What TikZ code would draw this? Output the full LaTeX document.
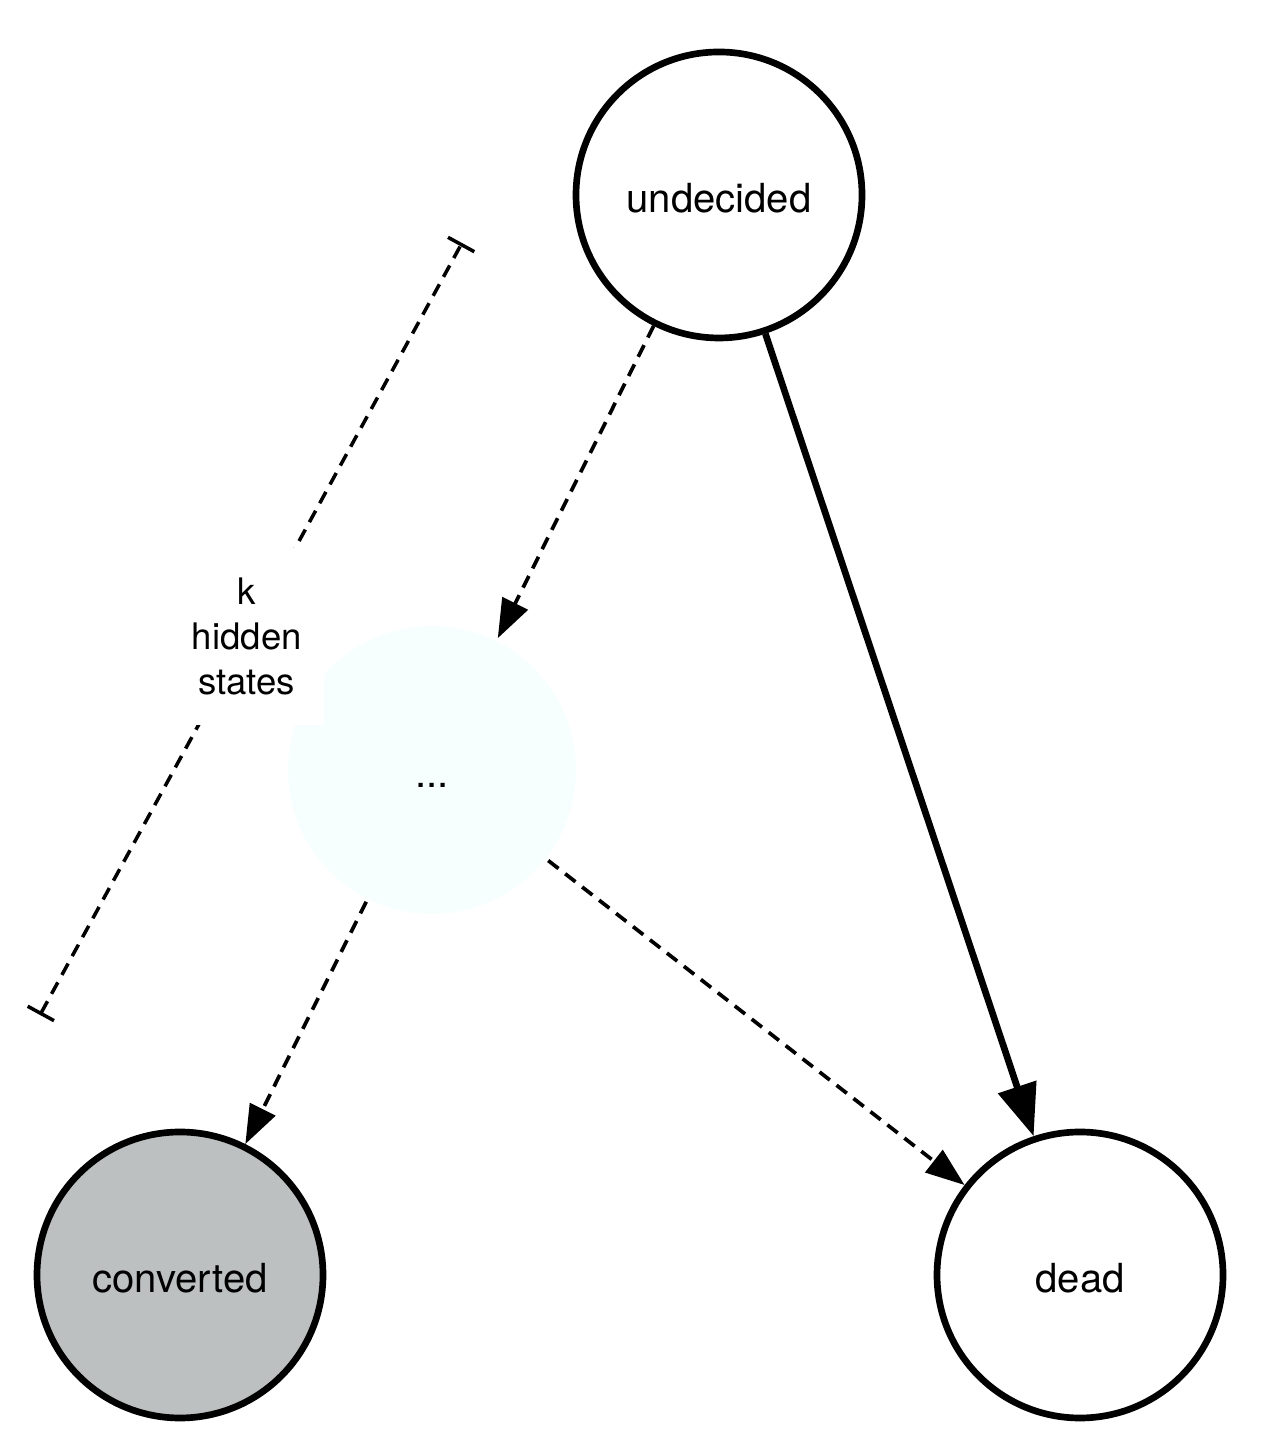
\documentclass[tikz,border=0pt]{standalone}
\usepackage{fontspec}
\setmainfont{TeX Gyre Heros}
\usetikzlibrary{arrows.meta,positioning}
\definecolor{ConvertedColor}{RGB}{189,192,192}
\definecolor{HiddenColor}{RGB}{247,254,254}
\tikzset{
    state/.style={circle, draw, line width=1.9pt, minimum size=2.86cm, inner sep=0pt, text height=10.5pt, text depth=0.5pt, font=\fontsize{11.4}{13.7}\selectfont},
    converted/.style={state, fill=ConvertedColor},
    hidden/.style={state, draw=none, fill=HiddenColor, minimum size=2.88cm},
    transition/.style={-{Triangle[length=0.52cm, width=0.39cm]}, line width=1.9pt},
    maybe/.style={-{Triangle[length=0.39cm, width=0.28cm]}, line width=1.05pt, dash pattern=on 0.13cm off 0.085cm},
    span/.style={{Bar[width=0.3cm]}-{Bar[width=0.3cm]}, line width=1pt, dash pattern=on 0.13cm off 0.085cm}
}
\begin{document}
\begin{tikzpicture}
\useasboundingbox (0,0) rectangle (12.84,14.56);

% States
\node (undecided) [state] at (7.19,12.61) {undecided};
\node (hidden) [hidden] at (4.32,6.86) {...};
\node (converted) [converted] at (1.80,1.81) {converted};
\node (dead) [state] at (10.80,1.81) {dead};

% Span of the hidden states
\coordinate (spanlow) at (0.40,4.41);
\coordinate (spanhigh) at (4.62,12.13);
\draw [span] (spanlow) -- (spanhigh) node (spanlabel) [pos=0.49, fill=white, align=center, inner xsep=0.22cm, inner ysep=0.3cm, font=\fontsize{10.4}{12.8}\selectfont] {k\\hidden\\states};

% Transitions
\draw [maybe] (undecided) -- (hidden);
\draw [maybe] (hidden) -- (converted);
\draw [maybe] (hidden) -- (dead);
\draw [transition] (undecided) -- (dead);

\end{tikzpicture}
\end{document}
